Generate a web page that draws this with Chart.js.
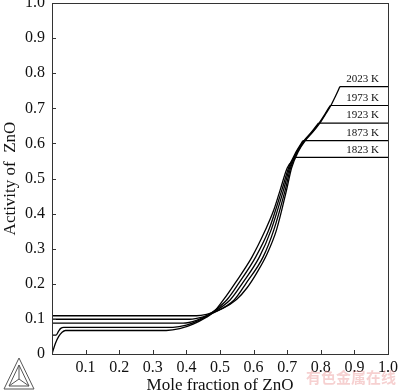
<!DOCTYPE html>
<html lang="en">
<head>
    <meta charset="UTF-8">
    <title>Activity of ZnO</title>
    <script src="https://cdn.jsdelivr.net/npm/chart.js"></script>
    <style>
        html, body { margin: 0; padding: 0; background: #fff; }
    </style>
</head>
<body>
    <canvas id="actChart" width="400" height="392"></canvas>

    <script>
        // temperatures (labels for the curves)
        const temps = ['1823 K', '1873 K', '1923 K', '1973 K', '2023 K'];

        // rising part of each curve: [mole fraction ZnO, activity]
        const rise1823 = [[0, 0], [0.01, 0.03], [0.02, 0.05], [0.03, 0.062], [0.04, 0.067], [0.34, 0.067],
            [0.38, 0.072], [0.42, 0.085], [0.46, 0.105], [0.48, 0.118], [0.51, 0.154], [0.545, 0.202],
            [0.595, 0.276], [0.635, 0.353], [0.66, 0.41], [0.679, 0.467], [0.70, 0.53], [0.724, 0.56]];
        const rise1873 = [[0, 0.054], [0.012, 0.054], [0.02, 0.066], [0.026, 0.073], [0.035, 0.076], [0.36, 0.076],
            [0.40, 0.082], [0.44, 0.097], [0.47, 0.114], [0.52, 0.154], [0.556, 0.202], [0.606, 0.276],
            [0.645, 0.353], [0.684, 0.467], [0.704, 0.53], [0.726, 0.575], [0.747, 0.608]];
        const rise1923 = [[0, 0.088], [0.39, 0.088], [0.43, 0.096], [0.47, 0.114], [0.53, 0.154], [0.567, 0.202],
            [0.617, 0.276], [0.652, 0.353], [0.689, 0.467], [0.707, 0.53], [0.728, 0.575], [0.75, 0.608],
            [0.772, 0.632], [0.793, 0.658]];
        const rise1973 = [[0, 0.099], [0.41, 0.099], [0.45, 0.106], [0.475, 0.115], [0.542, 0.154], [0.578, 0.202],
            [0.628, 0.276], [0.66, 0.353], [0.694, 0.467], [0.71, 0.53], [0.73, 0.575], [0.752, 0.608],
            [0.774, 0.632], [0.795, 0.658], [0.812, 0.683], [0.828, 0.708]];
        const rise2023 = [[0, 0.109], [0.43, 0.109], [0.46, 0.113], [0.49, 0.122], [0.52, 0.136], [0.55, 0.156],
            [0.58, 0.188], [0.61, 0.232], [0.64, 0.285], [0.668, 0.353], [0.698, 0.467], [0.713, 0.53],
            [0.732, 0.575], [0.754, 0.608], [0.776, 0.632], [0.797, 0.658], [0.814, 0.683], [0.83, 0.708],
            [0.844, 0.735], [0.857, 0.762]];
        const rises = [rise1823, rise1873, rise1923, rise1973, rise2023];

        // plateau levels (flat to x = 1), labels sit on them
        const plateaus = [0.56, 0.608, 0.658, 0.708, 0.762];

        const serif = '"Liberation Serif", "Times New Roman", serif';

        // build datasets: smooth rise + straight plateau for each temperature
        const datasets = [];
        rises.forEach((r, i) => {
            const last = r[r.length - 1];
            datasets.push({
                label: temps[i],
                data: r.map(p => ({ x: p[0], y: p[1] })),
                showLine: true, borderColor: '#000', borderWidth: 1.3, pointRadius: 0,
                cubicInterpolationMode: 'monotone', fill: false
            });
            datasets.push({
                label: temps[i] + ' plateau',
                data: [{ x: last[0], y: plateaus[i] }, { x: 1, y: plateaus[i] }],
                showLine: true, borderColor: '#000', borderWidth: 1.2, pointRadius: 0,
                tension: 0, fill: false
            });
        });

        // labels, frame, inward ticks and the little logo
        const decoPlugin = {
            id: 'deco',
            afterDraw(chart) {
                const ctx = chart.ctx;
                const a = chart.chartArea;
                const xs = chart.scales.x, ys = chart.scales.y;
                ctx.save();
                ctx.strokeStyle = '#333';
                ctx.lineWidth = 1;
                ctx.strokeRect(a.left + 0.5, a.top + 0.5, a.right - a.left, a.bottom - a.top);

                ctx.beginPath();
                ys.ticks.forEach(t => {
                    const py = Math.round(ys.getPixelForValue(t.value)) + 0.5;
                    ctx.moveTo(a.left, py);
                    ctx.lineTo(a.left + 4, py);
                });
                xs.ticks.forEach(t => {
                    const px = Math.round(xs.getPixelForValue(t.value)) + 0.5;
                    ctx.moveTo(px, a.bottom);
                    ctx.lineTo(px, a.bottom - 4);
                });
                ctx.stroke();

                // temperature labels
                ctx.fillStyle = '#111';
                ctx.font = '11px ' + serif;
                ctx.textAlign = 'right';
                ctx.textBaseline = 'bottom';
                temps.forEach((t, i) => {
                    ctx.fillText(t, xs.getPixelForValue(0.973), ys.getPixelForValue(plateaus[i]) - 2);
                });

                // logo triangle bottom left
                ctx.strokeStyle = '#555';
                ctx.beginPath();
                ctx.moveTo(4, 389); ctx.lineTo(34, 389); ctx.lineTo(19, 358); ctx.closePath();
                ctx.moveTo(9, 386); ctx.lineTo(29, 386); ctx.lineTo(19, 365); ctx.closePath();
                ctx.moveTo(19, 365); ctx.lineTo(19, 379);
                ctx.moveTo(9, 386); ctx.lineTo(19, 379); ctx.lineTo(29, 386);
                ctx.stroke();

                // watermark
                ctx.fillStyle = 'rgba(230, 120, 120, 0.35)';
                ctx.font = 'bold 15px "Noto Sans CJK SC"';
                ctx.textAlign = 'right';
                ctx.textBaseline = 'middle';
                ctx.fillText('有色金属在线', 396, 377);
                ctx.restore();
            }
        };

        const ctx = document.getElementById('actChart').getContext('2d');
        const actChart = new Chart(ctx, {
            type: 'scatter',
            data: { datasets: datasets },
            options: {
                responsive: false,
                animation: false,
                layout: { padding: { top: 3, right: 12, left: 0, bottom: 0 } },
                plugins: { legend: { display: false }, tooltip: { enabled: false } },
                scales: {
                    x: {
                        type: 'linear', min: 0, max: 1,
                        afterFit(s) { s.height = 38; s.paddingLeft = 0; s.paddingRight = 0; },
                        grid: { display: false, drawTicks: false },
                        border: { display: false },
                        ticks: {
                            stepSize: 0.1, padding: 4, color: '#111', autoSkip: false,
                            maxRotation: 0, minRotation: 0,
                            font: { family: serif, size: 16 },
                            callback: v => (Math.abs(v) < 1e-9 ? '' : v.toFixed(1))
                        },
                        title: {
                            display: true, text: 'Mole fraction of ZnO', color: '#111',
                            font: { family: serif, size: 17, lineHeight: 1 }, padding: { top: 0, bottom: -2 }
                        }
                    },
                    y: {
                        type: 'linear', min: 0, max: 1,
                        afterFit(s) { s.width = 52; s.paddingTop = 0; s.paddingBottom = 0; },
                        grid: { display: false, drawTicks: false },
                        border: { display: false },
                        ticks: {
                            stepSize: 0.1, padding: 7, color: '#111', autoSkip: false,
                            font: { family: serif, size: 16 },
                            callback: v => (Math.abs(v) < 1e-9 ? '0' : v.toFixed(1))
                        },
                        title: {
                            display: true, text: 'Activity of  ZnO', color: '#111',
                            font: { family: serif, size: 17 }, padding: { top: 0, bottom: 0 }
                        }
                    }
                }
            },
            plugins: [decoPlugin]
        });
    </script>
</body>
</html>
